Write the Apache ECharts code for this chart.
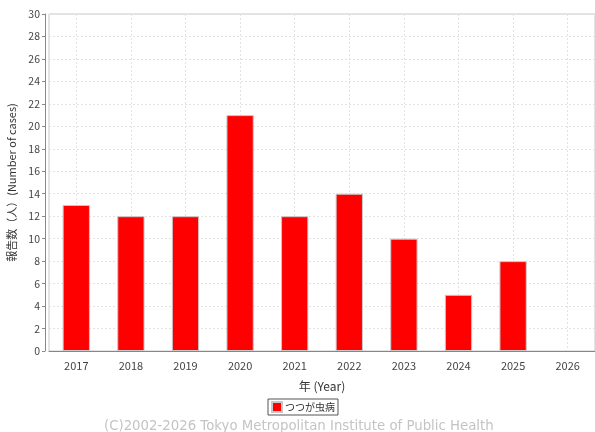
<!DOCTYPE html>
<html>
<head>
<meta charset="utf-8">
<script src="https://cdn.jsdelivr.net/npm/echarts@6/dist/echarts.min.js"></script>
<style>
  html, body { margin: 0; padding: 0; background: #fff; }
  #chart { width: 595px; height: 432px; }
</style>
</head>
<body>
<div id="chart"></div>
<script>
// 年ごとの報告数
const years = ['2017', '2018', '2019', '2020', '2021', '2022', '2023', '2024', '2025', '2026'];
const cases = [13, 12, 12, 21, 12, 14, 10, 5, 8, null];
const seriesName = 'つつが虫病';

const chart = echarts.init(document.getElementById('chart'));
const fontFamily = '"Noto Sans CJK JP", "Noto Sans", sans-serif';

const option = {
  backgroundColor: '#fff',
  animation: false,
  textStyle: { fontFamily },
  grid: {
    left: 49, right: 0, top: 14, bottom: 81,
    outerBoundsMode: 'none',
    containLabel: false,
    show: true, borderColor: '#c8c8c8', borderWidth: 1, backgroundColor: '#fff',
  },
  legend: {
    data: [seriesName],
    bottom: 17,
    left: 268,
    itemWidth: 10, itemHeight: 10, itemGap: 3,
    padding: [2, 3],
    borderColor: '#555', borderWidth: 1, borderRadius: 0,
    icon: 'rect',
    textStyle: { fontSize: 10, color: '#333', padding: [0, 0, 0, -2] },
  },
  xAxis: {
    type: 'category',
    data: years,
    offset: 3,
    name: '年 (Year)',
    nameLocation: 'middle',
    nameGap: 26,
    nameTextStyle: { fontSize: 12, color: '#333' },
    axisLine: { lineStyle: { color: '#888' } },
    axisTick: { alignWithLabel: true, length: 3, lineStyle: { color: '#888' } },
    axisLabel: { fontSize: 11, color: '#444', margin: 6 },
    splitLine: { show: true, alignWithLabel: true, lineStyle: { color: '#e2e2e2', type: [2, 2] } },
  },
  yAxis: {
    type: 'value',
    min: 0, max: 30, interval: 2,
    offset: 4,
    name: '報告数（人）(Number of cases)',
    nameLocation: 'middle',
    nameGap: 26,
    nameTextStyle: { fontSize: 11, color: '#333' },
    axisLine: { show: true, lineStyle: { color: '#888' } },
    axisTick: { show: true, length: 3, lineStyle: { color: '#888' } },
    axisLabel: { fontSize: 10.5, color: '#444', margin: 5 },
    splitLine: { show: true, lineStyle: { color: '#e2e2e2', type: [2, 2] } },
  },
  series: [{
    name: seriesName,
    type: 'bar',
    data: cases,
    barWidth: '50%',
    itemStyle: { color: '#ff0000', borderColor: '#c8c8c8', borderWidth: 1 },
    markLine: {
      silent: true,
      symbol: 'none',
      label: { show: false },
      lineStyle: { color: '#7b7bd6', type: [2, 2], width: 1 },
      data: [{ yAxis: 0 }],
    },
  }],
  graphic: [{
    type: 'text',
    left: 104,
    top: 420,
    style: {
      text: '(C)2002-2026 Tokyo Metropolitan Institute of Public Health',
      fontSize: 13.3,
      fontFamily: '"DejaVu Sans", sans-serif',
      fill: '#c4c4c4',
    },
  }],
};

chart.setOption(option);
</script>
</body>
</html>
